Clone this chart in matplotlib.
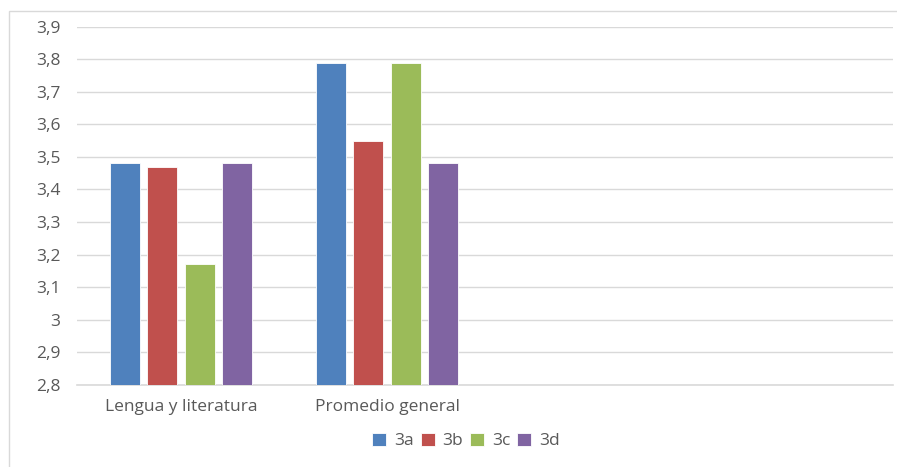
import matplotlib.pyplot as plt
from matplotlib.patches import Rectangle
from matplotlib.ticker import FuncFormatter
import numpy as np

# Datos
categorias = ['Lengua y literatura', 'Promedio general', '', '']
series = ['3a', '3b', '3c', '3d']
valores_3a = [3.48, 3.79]
valores_3b = [3.47, 3.55]
valores_3c = [3.17, 3.79]
valores_3d = [3.48, 3.48]
colores = ['#4F81BD', '#C0504D', '#9BBB59', '#8064A2']

plt.rcParams['font.family'] = ['Open Sans', 'DejaVu Sans']

fig = plt.figure(figsize=(8.97, 4.67), dpi=100)
ax = fig.add_axes([77 / 897, 1 - 384.7 / 467, 816 / 897, (384.7 - 26.7) / 467])

# borde del area del grafico
fig.patches.append(Rectangle((8.5 / 897, -0.1), 1.2, 1 - 10.5 / 467 + 0.1,
                             transform=fig.transFigure, fill=False,
                             edgecolor='#d9d9d9', linewidth=1))

x = np.arange(2)
paso = 0.182
ancho = 0.146
for i, (nombre, vals) in enumerate(zip(series, [valores_3a, valores_3b, valores_3c, valores_3d])):
    pos = x + (i - 1.5) * paso
    ax.bar(pos, np.array(vals) - 2.8, bottom=2.8, width=ancho, color=colores[i],
           edgecolor='white', linewidth=0.6, label=nombre, zorder=3)

ax.set_xlim(-0.505, 3.456)
ax.set_ylim(2.8, 3.9)
ax.set_yticks(np.arange(2.8, 3.91, 0.1))
ax.yaxis.set_major_formatter(FuncFormatter(
    lambda v, p: ('%g' % round(v, 1)).replace('.', ',')))
ax.set_xticks(range(len(categorias)))
ax.set_xticklabels(categorias)

ax.grid(axis='y', color='#d9d9d9', linewidth=1, zorder=0)
for lado in ['top', 'right', 'left']:
    ax.spines[lado].set_visible(False)
ax.spines['bottom'].set_color('#d9d9d9')
ax.spines['bottom'].set_linewidth(1.2)
ax.tick_params(axis='both', length=0, colors='#595959', labelsize=12.5)
ax.tick_params(axis='y', pad=12)
ax.tick_params(axis='x', pad=10)

fig.legend(loc='center', bbox_to_anchor=(466 / 897, 1 - 441 / 467), ncol=4,
           frameon=False, fontsize=12.5, handlelength=0.8, handleheight=0.8,
           handletextpad=0.45, columnspacing=0.4, labelcolor='#595959')

fig.savefig('out.png', dpi=100)
